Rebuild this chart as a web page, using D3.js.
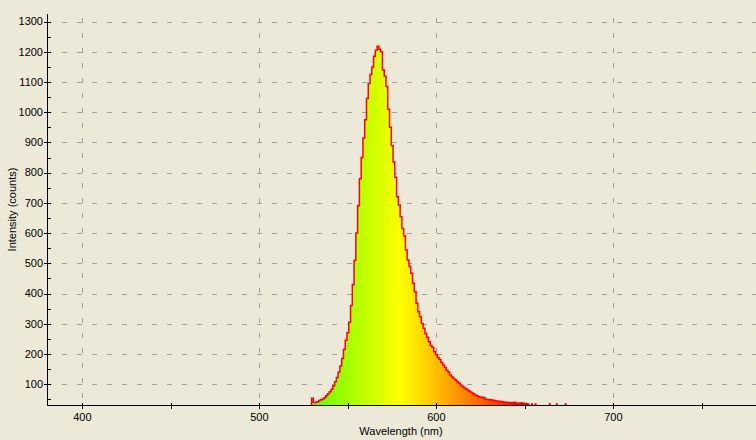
<!DOCTYPE html>
<html><head><meta charset="utf-8">
<script src="https://cdn.jsdelivr.net/npm/d3@7"></script>
<style>
html,body{margin:0;padding:0;background:#ece9d8;}
svg{display:block;}
text{font-family:"Liberation Sans",Arial,sans-serif;font-size:11px;fill:#000;}
</style></head><body>
<svg id="chart" width="756" height="440"></svg>
<script>
// ---- data ----
const wavelengths = [
 526,527,528,529,530,531,532,533,534,535,536,537,538,539,540,541,542,543,544,545,
 546,547,548,549,550,551,552,553,554,555,556,557,558,559,560,561,562,563,564,565,
 566,567,568,569,570,571,572,573,574,575,576,577,578,579,580,581,582,583,584,585,
 586,587,588,589,590,591,592,593,594,595,596,597,598,599,600,601,602,603,604,605,
 606,607,608,609,610,611,612,613,614,615,616,617,618,619,620,621,622,623,624,625,
 626,627,628,629,630,631,632,633,634,635,636,637,638,639,640,641,642,643,644,645,
 646,647,648,649,650,651,652,653,654,655,656,657,658,659,660,661,662,663,664,665,
 666,667,668,669,670,671,672,673,674,675];
const intensities = [
 25,26,29,32,53,40,39,42,46,48,51,55,62,68,75,83,95,108,122,140,
 160,185,215,245,270,305,360,430,510,600,690,780,850,915,975,1045,1095,1125,1150,1185,
 1205,1218,1208,1200,1140,1120,1085,1010,950,890,835,785,720,693,654,615,590,544,511,489,
 467,434,406,368,340,323,301,285,268,255,240,228,222,207,198,188,182,172,163,155,
 146,140,130,124,119,114,108,103,96,92,87,84,80,76,72,68,64,62,59,57,
 57,55,50,49,48,48,47,46,44,43,43,42,41,40,40,39,39,38,40,38,
 37,37,38,37,36,35,34,31,35,30,35,29,30,28,29,27,28,27,35,27,
 28,27,35,27,28,26,27,35,27,26];
const xTickValues = [400, 500, 600, 700];
const xMinorTicks = [450, 550, 650, 750];
const yTickValues = [100, 200, 300, 400, 500, 600, 700, 800, 900, 1000, 1100, 1200, 1300];
const yMinorTicks = [50, 150, 250, 350, 450, 550, 650, 750, 850, 950, 1050, 1150, 1250];
const xLabel = "Wavelength (nm)";
const yLabel = "Intensity (counts)";
const stopWavelengths = [510, 520, 530, 540, 550, 560, 570, 580, 590, 600, 610, 620, 630, 640, 645];
const stopColors = ["#00ff00","#36ff00","#5eff00","#82ff00","#a3ff00","#c3ff00","#e1ff00","#ffff00",
                    "#ffdf00","#ffbe00","#ff9b00","#ff7700","#ff4f00","#ff2100","#ff0000"];

// ---- layout ----
const L = 47, R = 755, T = 14, B = 405;
const svg = d3.select("#chart");
const x = d3.scaleLinear().domain([380, 780]).range([L, R]);
const y = d3.scaleLinear().domain([31, 1325]).range([B, T]).clamp(true);
const data = wavelengths.map((w, i) => ({w, v: intensities[i]}));
const crisp = v => Math.round(v) + 0.5;

// gradient
const defs = svg.append("defs");
const grad = defs.append("linearGradient").attr("id", "spec")
  .attr("gradientUnits", "userSpaceOnUse")
  .attr("x1", x(380)).attr("x2", x(780)).attr("y1", 0).attr("y2", 0);
stopWavelengths.forEach((w, i) => {
  grad.append("stop").attr("offset", (w - 380) / 400).attr("stop-color", stopColors[i]);
});
defs.append("clipPath").attr("id", "plot").append("rect")
  .attr("x", L).attr("y", T).attr("width", 756 - L).attr("height", B - T);

// grid
const grid = svg.append("g").attr("stroke", "#a0a0a0").attr("stroke-width", 1)
  .attr("stroke-dasharray", "5,10").attr("shape-rendering", "crispEdges");
grid.selectAll("line.h").data(yTickValues).join("line").attr("class", "h")
  .attr("x1", L).attr("x2", 756).attr("y1", d => crisp(y(d))).attr("y2", d => crisp(y(d)));
grid.selectAll("line.v").data(xTickValues).join("line").attr("class", "v")
  .attr("x1", d => crisp(x(d))).attr("x2", d => crisp(x(d))).attr("y1", 18).attr("y2", B);

// spectrum
const g = svg.append("g").attr("clip-path", "url(#plot)");
const area = d3.area().curve(d3.curveStep).x(d => x(d.w)).y0(B).y1(d => y(d.v));
const line = d3.line().curve(d3.curveStep).defined(d => d.v > 31).x(d => x(d.w)).y(d => y(d.v));
g.append("path").datum(data).attr("d", area).attr("fill", "url(#spec)");
g.append("path").datum(data).attr("d", line).attr("fill", "none")
  .attr("stroke", "#ff0000").attr("stroke-width", 1.5);
g.selectAll("rect.bit").data(data.filter((d, i) => i > 120 && d.v > 31)).join("rect").attr("class", "bit")
  .attr("x", d => x(d.w) - 1).attr("width", 2).attr("y", d => y(d.v) - 0.5)
  .attr("height", d => B - y(d.v) + 0.5).attr("fill", "#ff0000");

// axes
const ax = svg.append("g").attr("stroke", "#000").attr("stroke-width", 1).attr("shape-rendering", "crispEdges");
ax.append("line").attr("x1", L + 0.5).attr("x2", L + 0.5).attr("y1", T).attr("y2", B + 1);
ax.append("line").attr("x1", L).attr("x2", 756).attr("y1", B + 0.5).attr("y2", B + 0.5);
ax.selectAll("line.ym").data(yTickValues).join("line").attr("class", "ym")
  .attr("x1", L - 3).attr("x2", L + 4).attr("y1", d => crisp(y(d))).attr("y2", d => crisp(y(d)));
ax.selectAll("line.yn").data(yMinorTicks).join("line").attr("class", "yn")
  .attr("x1", L).attr("x2", L + 4).attr("y1", d => crisp(y(d))).attr("y2", d => crisp(y(d)));
ax.selectAll("line.xm").data(xTickValues.concat(xMinorTicks)).join("line").attr("class", "xm")
  .attr("x1", d => crisp(x(d))).attr("x2", d => crisp(x(d))).attr("y1", B - 2).attr("y2", B + 4);

// labels
svg.selectAll("text.yt").data(yTickValues).join("text").attr("class", "yt")
  .attr("x", L - 4).attr("y", d => y(d)).attr("dy", "0.35em").attr("text-anchor", "end").text(d => d);
svg.selectAll("text.xt").data(xTickValues).join("text").attr("class", "xt")
  .attr("x", d => x(d)).attr("y", 421).attr("text-anchor", "middle").text(d => d);
svg.append("text").attr("x", (L + R) / 2).attr("y", 435).attr("text-anchor", "middle").text(xLabel);
svg.append("text").attr("transform", `translate(16,${(T + B) / 2}) rotate(-90)`)
  .attr("text-anchor", "middle").text(yLabel);
</script>
</body></html>
